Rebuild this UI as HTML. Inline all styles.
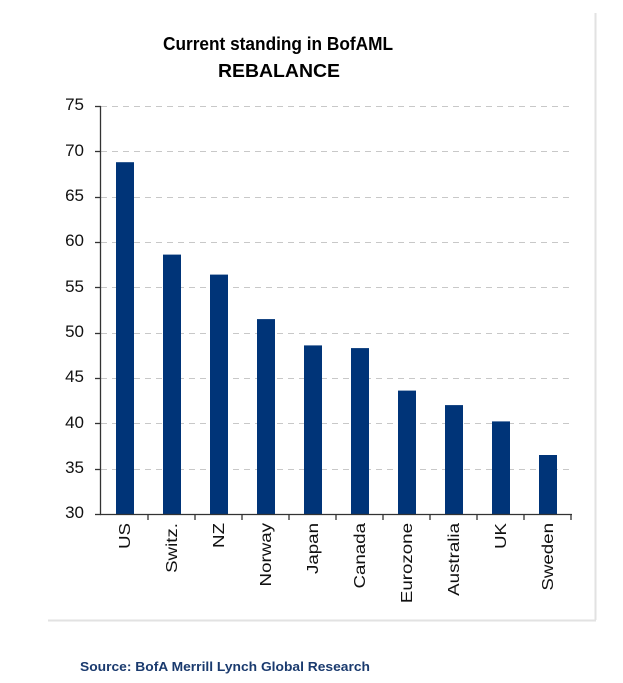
<!DOCTYPE html>
<html><head><meta charset="utf-8"><style>
html,body{margin:0;padding:0;background:#fff;}
svg{display:block;}
</style></head><body>
<svg width="623" height="683" xmlns="http://www.w3.org/2000/svg" font-family="Liberation Sans, Arial, sans-serif">
<line x1="595.5" y1="13" x2="595.5" y2="620" stroke="#e2e2e2" stroke-width="2"/>
<line x1="48" y1="620.5" x2="596" y2="620.5" stroke="#e2e2e2" stroke-width="2"/>
<text x="278" y="50" font-size="18" font-weight="bold" text-anchor="middle" textLength="230" lengthAdjust="spacingAndGlyphs">Current standing in BofAML</text>
<text x="279" y="77" font-size="18" font-weight="bold" text-anchor="middle" textLength="122" lengthAdjust="spacingAndGlyphs">REBALANCE</text>
<g stroke="#c8c8c8" stroke-dasharray="6,5" stroke-width="1">
<line x1="101" x2="572" y1="106.5" y2="106.5"/>
<line x1="101" x2="572" y1="151.5" y2="151.5"/>
<line x1="101" x2="572" y1="197.5" y2="197.5"/>
<line x1="101" x2="572" y1="242.5" y2="242.5"/>
<line x1="101" x2="572" y1="287.5" y2="287.5"/>
<line x1="101" x2="572" y1="333.5" y2="333.5"/>
<line x1="101" x2="572" y1="378.5" y2="378.5"/>
<line x1="101" x2="572" y1="423.5" y2="423.5"/>
<line x1="101" x2="572" y1="469.5" y2="469.5"/>
</g>
<g fill="#003478">
<rect x="116" y="162.2" width="18" height="351.8"/>
<rect x="163" y="254.6" width="18" height="259.4"/>
<rect x="210" y="274.6" width="18" height="239.4"/>
<rect x="257" y="319.1" width="18" height="194.9"/>
<rect x="304" y="345.4" width="18" height="168.6"/>
<rect x="351" y="348.1" width="18" height="165.9"/>
<rect x="398" y="390.6" width="18" height="123.4"/>
<rect x="445" y="405.1" width="18" height="108.9"/>
<rect x="492" y="421.4" width="18" height="92.6"/>
<rect x="539" y="455.0" width="18" height="59.0"/>
</g>
<g stroke="#333" stroke-width="1.3">
<line x1="100.5" y1="106" x2="100.5" y2="514"/>
<line x1="100" y1="514.5" x2="572" y2="514.5"/>
<line x1="95" x2="101" y1="106.5" y2="106.5"/><line x1="95" x2="101" y1="151.5" y2="151.5"/>
<line x1="95" x2="101" y1="197.5" y2="197.5"/><line x1="95" x2="101" y1="242.5" y2="242.5"/>
<line x1="95" x2="101" y1="287.5" y2="287.5"/><line x1="95" x2="101" y1="333.5" y2="333.5"/>
<line x1="95" x2="101" y1="378.5" y2="378.5"/><line x1="95" x2="101" y1="423.5" y2="423.5"/>
<line x1="95" x2="101" y1="469.5" y2="469.5"/><line x1="95" x2="101" y1="514.5" y2="514.5"/>
<line x1="148" x2="148" y1="514" y2="520"/><line x1="195" x2="195" y1="514" y2="520"/>
<line x1="242" x2="242" y1="514" y2="520"/><line x1="289" x2="289" y1="514" y2="520"/>
<line x1="336" x2="336" y1="514" y2="520"/><line x1="383" x2="383" y1="514" y2="520"/>
<line x1="430" x2="430" y1="514" y2="520"/><line x1="477" x2="477" y1="514" y2="520"/>
<line x1="524" x2="524" y1="514" y2="520"/><line x1="571" x2="571" y1="514" y2="520"/>
</g>
<g font-size="17" text-anchor="end" fill="#111">
<text x="84" y="110">75</text><text x="84" y="156">70</text><text x="84" y="201">65</text>
<text x="84" y="246">60</text><text x="84" y="292">55</text><text x="84" y="337">50</text>
<text x="84" y="382">45</text><text x="84" y="428">40</text><text x="84" y="473">35</text>
<text x="84" y="518">30</text>
</g>
<g font-size="16" text-anchor="end" fill="#111">
<text transform="translate(130,523) rotate(-90) scale(1.17,1)">US</text>
<text transform="translate(177,523) rotate(-90) scale(1.17,1)">Switz.</text>
<text transform="translate(224,523) rotate(-90) scale(1.17,1)">NZ</text>
<text transform="translate(271,523) rotate(-90) scale(1.17,1)">Norway</text>
<text transform="translate(318,523) rotate(-90) scale(1.17,1)">Japan</text>
<text transform="translate(365,523) rotate(-90) scale(1.17,1)">Canada</text>
<text transform="translate(412,523) rotate(-90) scale(1.17,1)">Eurozone</text>
<text transform="translate(459,523) rotate(-90) scale(1.17,1)">Australia</text>
<text transform="translate(506,523) rotate(-90) scale(1.17,1)">UK</text>
<text transform="translate(553,523) rotate(-90) scale(1.17,1)">Sweden</text>
</g>
<text x="80" y="671" font-size="13" font-weight="bold" fill="#1a3a6e" textLength="290" lengthAdjust="spacingAndGlyphs">Source: BofA Merrill Lynch Global Research</text>
</svg>
</body></html>
